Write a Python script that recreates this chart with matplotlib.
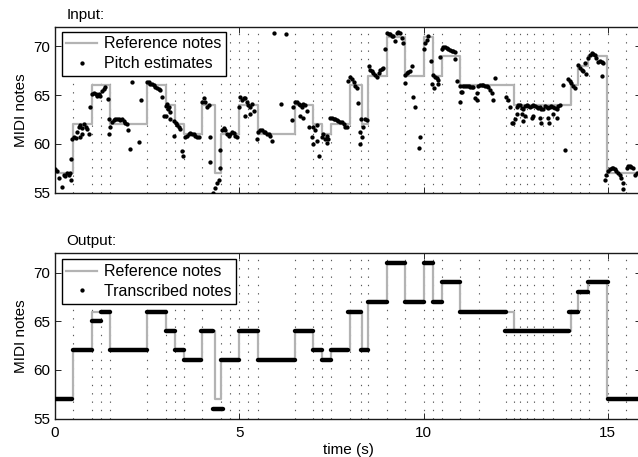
import matplotlib
matplotlib.use("Agg")
import matplotlib.pyplot as plt
from matplotlib.lines import Line2D

plt.rcParams['font.family'] = ['Liberation Sans', 'DejaVu Sans']
plt.rcParams['font.size'] = 11

# ---------------- data ----------------
t_end = 15.9

# reference notes (onset time in s, MIDI pitch)
ref_on = [0.0, 0.5, 1.0, 1.5, 2.5, 3.0, 3.25, 3.5, 4.0, 4.35, 4.5, 5.0, 5.5, 6.5,
          7.0, 7.25, 7.5, 8.0, 8.33, 8.5, 9.0, 9.5, 10.0, 10.25, 10.5, 11.0,
          12.45, 14.0, 14.2, 14.47, 14.97]
ref_pitch = [57, 62, 66, 62, 66, 64, 62, 61, 64, 57, 61, 64, 61, 64,
             62, 61, 62, 66, 62, 67, 71, 67, 71, 67, 69, 66,
             64, 66, 68, 69, 57]

# transcribed notes
tr_on = [0.0, 0.5, 1.0, 1.25, 1.5, 2.5, 3.0, 3.25, 3.5, 3.97, 4.28, 4.5, 5.0, 5.5,
         6.5, 7.0, 7.25, 7.5, 7.96, 8.3, 8.5, 9.0, 9.5, 10.0, 10.25, 10.5, 11.0,
         12.2, 13.95, 14.2, 14.45, 15.0]
tr_off = [0.47, 1.0, 1.25, 1.5, 2.5, 3.0, 3.25, 3.5, 3.97, 4.28, 4.55, 5.0, 5.5, 6.5,
          7.0, 7.25, 7.5, 7.96, 8.3, 8.5, 9.0, 9.5, 10.0, 10.25, 10.5, 11.0, 12.23,
          13.95, 14.2, 14.45, 15.0, 15.9]
tr_pitch = [57, 62, 65, 66, 62, 66, 64, 62, 61, 64, 56, 61, 64, 61,
            64, 62, 61, 62, 66, 62, 67, 71, 67, 71, 67, 69, 66,
            64, 66, 68, 69, 57]

# note-grid (dotted vertical lines)
grid_t = [0.5, 1.0, 1.25, 1.5, 2.5, 3.0, 3.25, 3.5, 4.0, 4.5, 4.75, 5.0, 5.25, 5.5,
          6.5, 7.0, 7.25, 7.5, 8.0, 8.3, 8.5, 9.0, 9.5, 10.0, 10.25, 10.5, 11.0,
          11.5, 12.25, 12.45, 12.625, 12.8, 13.0, 13.25, 13.5, 14.0, 14.25, 14.5,
          15.0, 15.5]

# pitch estimates (time s, MIDI)
est_t = [0.01, 0.06, 0.10, 0.18, 0.24, 0.28, 0.33, 0.38, 0.40, 0.44, 0.44,
         0.47, 0.51, 0.56, 0.60, 0.65, 0.67, 0.69, 0.74, 0.74, 0.78, 0.83, 0.87, 0.92,
         0.96, 1.01, 1.05, 1.10, 1.14, 1.19, 1.23, 1.28, 1.32, 1.37, 1.43,
         1.46, 1.46, 1.50, 1.55, 1.59, 1.64, 1.68, 1.73, 1.77, 1.82, 1.87, 1.91, 1.96,
         1.97, 2.03, 2.09, 2.27, 2.32,
         2.50, 2.54, 2.59, 2.63, 2.68, 2.72, 2.77, 2.81, 2.86, 2.90, 2.95,
         3.00, 3.04, 3.09, 3.13, 3.00, 3.13, 3.06,
         3.22, 3.27, 3.31, 3.36, 3.40, 3.22, 3.45, 3.46,
         3.54, 3.58, 3.63, 3.67, 3.72, 3.76, 3.81, 3.85, 3.90, 4.20,
         3.99, 4.03, 4.08, 4.12, 4.17, 4.21,
         4.30, 4.35, 4.39, 4.44, 4.48,
         4.48, 4.53, 4.58, 4.62, 4.67, 4.71, 4.76, 4.80, 4.85, 4.89, 4.94,
         4.98, 5.03, 5.07, 5.12, 5.16, 5.21, 5.25, 5.30, 5.34, 5.39, 5.16, 5.30,
         5.48, 5.52, 5.57, 5.61, 5.66, 5.70, 5.75, 5.80, 5.84, 5.89, 6.14,
         5.95, 6.27,
         6.43, 6.47, 6.52, 6.56, 6.61, 6.65, 6.70, 6.74, 6.79, 6.83, 6.65, 6.74, 6.88,
         7.01, 7.06, 7.10, 6.97, 7.01, 7.10, 7.15,
         7.24, 7.28, 7.33, 7.38, 7.42, 7.39,
         7.47, 7.51, 7.56, 7.60, 7.65, 7.69, 7.74, 7.78, 7.83, 7.87, 7.92,
         7.96, 8.01, 8.05, 8.10, 8.14, 8.19,
         8.23, 8.30, 8.37, 8.28, 8.32, 8.28, 8.41, 8.46,
         8.51, 8.55, 8.60, 8.64, 8.69, 8.73, 8.78, 8.82, 8.87, 8.91,
         8.96, 9.00, 9.05, 9.09, 9.14, 9.18, 9.23, 9.27, 9.32, 9.36, 9.41, 9.45,
         9.50, 9.54, 9.59, 9.63, 9.68, 9.50, 9.72, 9.77, 9.90, 9.89,
         10.00, 10.04, 10.09, 10.13,
         10.19, 10.25, 10.31, 10.36, 10.40, 10.22, 10.27, 10.40,
         10.45, 10.49, 10.54, 10.58, 10.63, 10.67, 10.72, 10.76, 10.81, 10.85, 10.85,
         10.90,
         10.99, 11.01, 11.03, 11.08, 11.12, 11.17, 11.22, 11.26, 11.31, 11.35, 10.99,
         11.40, 11.44, 11.44, 11.49, 11.53, 11.58, 11.62, 11.67, 11.71, 11.76, 11.80,
         11.85, 11.89, 11.94,
         12.25, 12.30, 12.34, 12.39,
         12.53, 12.57, 12.62, 12.66, 12.71, 12.75, 12.80, 12.84, 12.89, 12.93, 12.98,
         13.02, 13.07, 13.11, 13.16, 13.20, 13.25, 13.29, 13.34, 13.38, 13.43, 13.47,
         13.52, 13.56, 13.61, 13.65, 13.70,
         12.43, 12.48, 12.53, 12.66, 12.69, 12.75, 12.93, 12.98, 13.16, 13.18, 13.38,
         13.41, 13.61, 13.52,
         13.84, 13.79,
         13.93, 13.97, 14.01, 14.06, 14.11,
         14.20, 14.24, 14.29, 14.38, 14.42, 14.33,
         14.47, 14.51, 14.56, 14.60, 14.65, 14.69, 14.74, 14.78, 14.83, 14.87, 14.83,
         14.92, 14.96, 15.01, 15.05, 15.10, 15.14, 15.19, 15.23, 15.28, 15.33, 15.37,
         15.42, 15.42,
         15.51, 15.55, 15.60, 15.64, 15.69, 15.73, 15.78]
est_v = [57.4, 57.2, 56.5, 55.6, 56.8, 56.7, 57.0, 56.8, 57.0, 56.3, 58.4,
         60.5, 60.7, 60.6, 61.2, 61.7, 60.7, 61.9, 61.6, 61.0, 62.0, 61.7, 61.5, 61.0,
         63.8, 65.1, 65.2, 65.1, 64.9, 65.1, 64.9, 65.4, 65.6, 65.8, 64.6,
         62.6, 61.0, 61.7, 62.2, 62.4, 62.6, 62.6, 62.5, 62.4, 62.5, 62.3, 62.1, 62.0,
         61.4, 59.5, 66.4, 60.2, 64.5,
         66.3, 66.3, 66.1, 66.1, 66.0, 65.8, 65.7, 65.6, 65.5, 64.8, 62.9,
         63.9, 64.1, 63.8, 63.3, 62.9, 62.6, 63.6,
         62.3, 62.1, 61.9, 61.7, 61.5, 60.8, 59.3, 58.8,
         60.7, 60.8, 61.0, 61.1, 61.0, 61.0, 60.8, 60.7, 60.7, 60.7,
         64.3, 64.7, 64.3, 63.8, 64.0, 58.1,
         55.0, 55.5, 56.0, 56.3, 57.5,
         59.4, 61.4, 61.6, 61.4, 61.0, 60.8, 61.0, 61.2, 61.1, 60.8, 60.7,
         63.8, 64.8, 64.5, 64.7, 64.7, 64.3, 64.0, 63.8, 64.1, 63.4, 62.9, 63.1,
         60.5, 61.2, 61.4, 61.4, 61.2, 61.2, 61.0, 61.0, 60.8, 60.3, 64.1,
         71.4, 71.3,
         62.4, 63.8, 64.3, 64.3, 64.1, 64.0, 63.8, 64.1, 64.0, 63.4, 62.9, 62.7, 61.7,
         61.7, 61.4, 61.9, 60.7, 60.0, 60.3, 58.8,
         60.7, 61.0, 60.5, 60.1, 60.5, 60.8,
         62.7, 62.7, 62.6, 62.6, 62.4, 62.3, 62.2, 62.2, 62.0, 61.7, 61.7,
         66.5, 66.9, 66.7, 66.4, 65.9, 65.7,
         64.2, 62.6, 61.7, 61.2, 60.7, 60.0, 62.6, 62.4,
         68.0, 67.6, 67.5, 67.3, 67.1, 66.9, 67.3, 67.6, 67.7, 67.8,
         69.7, 71.4, 71.3, 71.3, 71.1, 71.1, 70.6, 71.4, 71.5, 71.4, 70.9, 70.4,
         67.1, 67.3, 67.4, 67.5, 68.0, 66.2, 64.8, 63.8, 60.7, 59.6,
         69.7, 70.4, 70.7, 71.1,
         68.5, 67.1, 66.9, 66.8, 66.6, 66.1, 65.7, 66.1,
         68.9, 69.7, 69.9, 69.9, 69.8, 69.7, 69.6, 69.5, 69.5, 69.4, 68.7,
         66.5,
         65.9, 65.3, 65.3, 65.9, 65.9, 65.9, 65.9, 65.8, 65.8, 65.8, 64.3,
         64.7, 64.5, 65.2, 65.9, 66.0, 66.0, 66.0, 65.9, 65.9, 65.8, 65.5,
         65.2, 64.5, 66.8,
         64.8, 64.5, 63.8, 62.1,
         63.8, 64.0, 64.0, 63.7, 63.6, 63.9, 64.0, 63.9, 63.8, 63.9, 64.0,
         63.9, 63.8, 63.7, 63.8, 63.6, 63.6, 63.9, 63.8, 63.7, 63.8, 63.9,
         63.8, 63.7, 63.6, 63.9, 64.0,
         62.1, 62.6, 63.1, 63.1, 62.3, 62.9, 62.7, 62.9, 62.7, 62.1, 62.7,
         62.1, 62.7, 63.1,
         59.4, 66.0,
         66.7, 66.5, 66.2, 65.9, 65.7,
         68.1, 67.8, 67.6, 68.3, 67.2, 67.5,
         68.8, 69.1, 69.3, 69.2, 69.1, 68.8, 68.4, 68.5, 68.4, 68.3, 67.0,
         56.3, 56.8, 57.2, 57.4, 57.5, 57.5, 57.4, 57.2, 57.0, 56.8, 56.5,
         56.0, 55.4,
         57.5, 57.7, 57.7, 57.6, 57.5, 56.8, 57.0]

x_ticks = [0, 5, 10, 15]
y_ticks = [55, 60, 65, 70]

# ---------------- style ----------------
REF_COLOR = '#b3b3b3'
GRID_COLOR = '0.35'

fig = plt.figure(figsize=(6.38, 4.57), dpi=100)
W, H = 638.0, 457.0
ax_left, ax_right = 55.0, 641.0
ax1 = fig.add_axes([ax_left / W, 1 - 192.5 / H, (ax_right - ax_left) / W, 165.5 / H])
ax2 = fig.add_axes([ax_left / W, 1 - 418.5 / H, (ax_right - ax_left) / W, 165.2 / H])

ref_x = ref_on + [t_end]
ref_y = ref_pitch + [ref_pitch[-1]]

for ax in (ax1, ax2):
    for gt in grid_t:
        ax.axvline(gt, color=GRID_COLOR, lw=0.8, dashes=(1.2, 6.3), zorder=1)
    ax.step(ref_x, ref_y, where='post', color=REF_COLOR, lw=1.6, zorder=2)
    ax.set_xlim(0, t_end)
    ax.set_ylim(55, 72)
    ax.set_xticks(x_ticks)
    ax.set_yticks(y_ticks)
    ax.tick_params(direction='in', length=4.3, width=0.7, top=True, right=True,
                   labelsize=11, color='0.15')
    ax.tick_params(axis='y', pad=3.5)
    ax.tick_params(axis='x', pad=5.5)
    for sp in ax.spines.values():
        sp.set_linewidth(1.0)
        sp.set_color('0.1')
    ax.set_ylabel('MIDI notes', labelpad=4)

ax1.plot(est_t, est_v, linestyle='none', marker='o', ms=3.1, mew=0,
         color='black', zorder=3)
ax1.set_xticklabels([])

for on, off, p in zip(tr_on, tr_off, tr_pitch):
    ax2.plot([on, off], [p, p], color='black', lw=3.2, solid_capstyle='round',
             zorder=3)
ax2.set_xlabel('time (s)', labelpad=2)

ax1.text(0.02, 1.03, 'Input:', transform=ax1.transAxes, ha='left', va='bottom')
ax2.text(0.02, 1.03, 'Output:', transform=ax2.transAxes, ha='left', va='bottom')

leg_kw = dict(loc='upper left', borderaxespad=0, fancybox=False, framealpha=1,
              edgecolor='black', handlelength=1.9, handletextpad=0.45,
              labelspacing=0.3, borderpad=0.3, numpoints=1, fontsize=11.5)


def handles(label2):
    return [Line2D([], [], color=REF_COLOR, lw=1.6, label='Reference notes'),
            Line2D([], [], linestyle='none', marker='o', ms=3.1, mew=0,
                   color='black', label=label2)]


l1 = ax1.legend(handles=handles('Pitch estimates'),
                bbox_to_anchor=(6.7 / 586, 1 - 4.7 / 165.5), **leg_kw)
l2 = ax2.legend(handles=handles('Transcribed notes'),
                bbox_to_anchor=(6.7 / 586, 1 - 6.0 / 165.2), **leg_kw)
for lg in (l1, l2):
    lg.get_frame().set_linewidth(1.0)
    lg.set_zorder(5)

fig.savefig('out.png', dpi=100)
